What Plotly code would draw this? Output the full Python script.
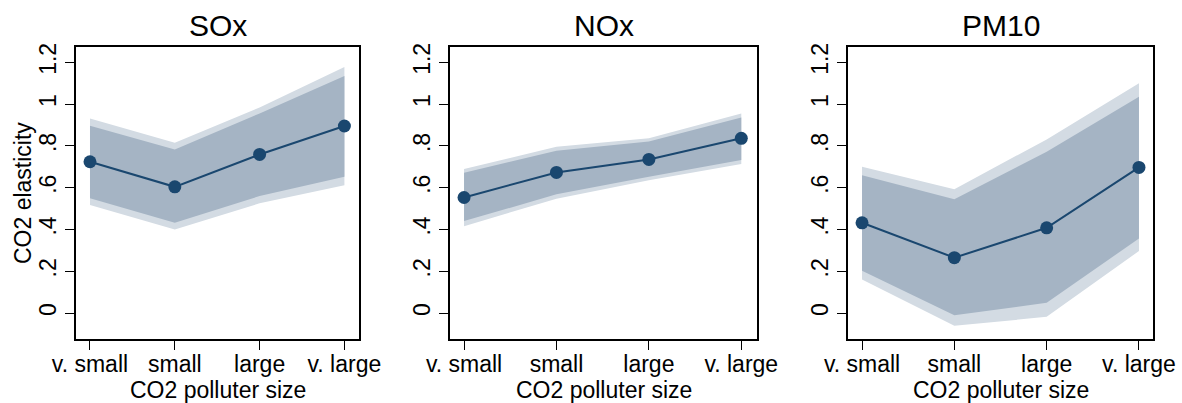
import plotly.graph_objects as go

categories = ["v. small", "small", "large", "v. large"]
x_pos = [1, 2, 3, 4]
panel_titles = ["SOx", "NOx", "PM10"]
x_title = "CO2 polluter size"
y_title = "CO2 elasticity"

# point estimates
sox_est = [0.724, 0.604, 0.759, 0.895]
nox_est = [0.553, 0.673, 0.735, 0.836]
pm10_est = [0.432, 0.265, 0.408, 0.697]

# inner (narrower) confidence band
sox_in_lo = [0.549, 0.432, 0.560, 0.652]
sox_in_hi = [0.896, 0.783, 0.955, 1.134]
nox_in_lo = [0.440, 0.568, 0.652, 0.732]
nox_in_hi = [0.671, 0.777, 0.821, 0.936]
pm10_in_lo = [0.203, -0.010, 0.049, 0.357]
pm10_in_hi = [0.659, 0.545, 0.772, 1.035]

# outer (wider) confidence band
sox_out_lo = [0.517, 0.400, 0.525, 0.611]
sox_out_hi = [0.931, 0.815, 0.984, 1.177]
nox_out_lo = [0.416, 0.547, 0.636, 0.713]
nox_out_hi = [0.689, 0.796, 0.836, 0.955]
pm10_out_lo = [0.161, -0.061, -0.018, 0.297]
pm10_out_hi = [0.700, 0.593, 0.831, 1.099]

y_tickvals = [0, 0.2, 0.4, 0.6, 0.8, 1.0, 1.2]
y_ticktext = ["0", ".2", ".4", ".6", ".8", "1", "1.2"]

panels = [
    (sox_est, sox_in_lo, sox_in_hi, sox_out_lo, sox_out_hi),
    (nox_est, nox_in_lo, nox_in_hi, nox_out_lo, nox_out_hi),
    (pm10_est, pm10_in_lo, pm10_in_hi, pm10_out_lo, pm10_out_hi),
]

W, H = 1182, 403
# frame pixel boxes (left, right) per panel; top/bottom shared
frames = [(76, 359), (450, 757), (848, 1153)]
xranges = [(0.835, 4.172), (0.848, 4.170), (0.848, 4.152)]
top_px, bot_px = 47, 339

NAVY = "#1a476f"
INNER = "#a5b4c4"
OUTER = "#d3dbe3"
FONT = "Liberation Sans, Arial, Helvetica, sans-serif"
FS = 23

fig = go.Figure()
layout = dict(
    width=W, height=H,
    margin=dict(l=0, r=0, t=0, b=0, autoexpand=False),
    paper_bgcolor="white", plot_bgcolor="white",
    showlegend=False,
    font=dict(family=FONT, color="black", size=FS),
)

annotations = []
for i, (est, ilo, ihi, olo, ohi) in enumerate(panels):
    n = "" if i == 0 else str(i + 1)
    xa, ya = "x" + n, "y" + n
    fig.add_trace(go.Scatter(
        x=x_pos + x_pos[::-1], y=ohi + olo[::-1], fill="toself",
        fillcolor=OUTER, line=dict(width=0), mode="lines",
        hoverinfo="skip", xaxis=xa, yaxis=ya))
    fig.add_trace(go.Scatter(
        x=x_pos + x_pos[::-1], y=ihi + ilo[::-1], fill="toself",
        fillcolor=INNER, line=dict(width=0), mode="lines",
        hoverinfo="skip", xaxis=xa, yaxis=ya))
    fig.add_trace(go.Scatter(
        x=x_pos, y=est, mode="lines+markers",
        line=dict(color=NAVY, width=2),
        marker=dict(color=NAVY, size=13),
        xaxis=xa, yaxis=ya))

    l, r = frames[i]
    layout["xaxis" + n] = dict(
        domain=[l / W, r / W], anchor=ya, range=list(xranges[i]),
        automargin=False,
        tickvals=x_pos, ticktext=categories,
        ticks="outside", ticklen=9, tickwidth=1.3, tickcolor="black",
        ticklabelstandoff=-5,
        showline=True, linecolor="black", linewidth=1.5, mirror=True,
        showgrid=False, zeroline=False,
        tickfont=dict(size=FS, family=FONT),
    )
    layout["yaxis" + n] = dict(
        domain=[1 - bot_px / H, 1 - top_px / H], anchor=xa,
        automargin=False,
        range=[-0.124, 1.273],
        tickvals=y_tickvals, ticktext=y_ticktext, tickangle=-90,
        ticks="outside", ticklen=9, tickwidth=1.3, tickcolor="black",
        showline=True, linecolor="black", linewidth=1.5, mirror=True,
        showgrid=False, zeroline=False,
        tickfont=dict(size=FS, family=FONT),
    )
    annotations.append(dict(
        text=panel_titles[i], x=(l + r) / 2 / W, y=1 - 25 / H,
        xref="paper", yref="paper", xanchor="center", yanchor="middle",
        showarrow=False, font=dict(size=30, family=FONT)))
    annotations.append(dict(
        text=x_title, x=(l + r) / 2 / W, y=1 - 390 / H,
        xref="paper", yref="paper", xanchor="center", yanchor="middle",
        showarrow=False, font=dict(size=FS, family=FONT)))

annotations.append(dict(
    text=y_title, x=23 / W, y=1 - 193 / H, textangle=-90,
    xref="paper", yref="paper", xanchor="center", yanchor="middle",
    showarrow=False, font=dict(size=FS, family=FONT)))

layout["annotations"] = annotations
fig.update_layout(**layout)
fig.write_html("out.html")
